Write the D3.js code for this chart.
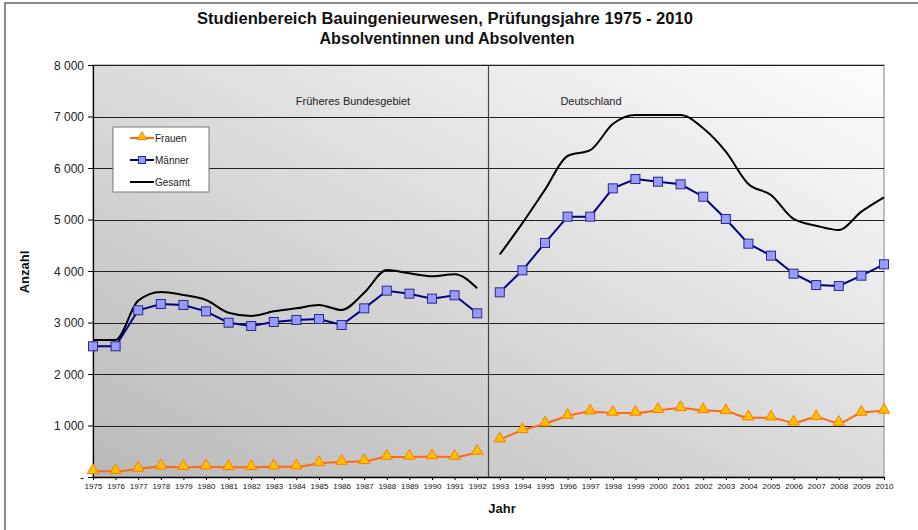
<!DOCTYPE html>
<html><head><meta charset="utf-8">
<script src="https://cdn.jsdelivr.net/npm/d3@7"></script>
<style>body{margin:0;background:#fff}svg{display:block}text{font-family:"Liberation Sans",Arial,sans-serif}</style>
</head><body>
<svg id="chart" width="918" height="530"></svg>
<script>
const yearsOld = d3.range(1975, 1993);
const yearsNew = d3.range(1993, 2011);
const frauenOld = [110,110,155,200,188,200,188,188,200,200,265,291,304,388,388,398,388,485];
const maennerOld = [2538,2538,3237,3359,3340,3217,2996,2932,3010,3049,3068,2951,3275,3618,3560,3463,3528,3178];
const gesamtOld = [2660,2660,3424,3592,3534,3437,3190,3126,3217,3275,3340,3243,3579,4019,3955,3897,3936,3664];
const frauenNew = [725,906,1035,1184,1268,1243,1243,1295,1334,1295,1275,1152,1152,1055,1159,1048,1243,1281];
const maennerNew = [3586,4013,4544,5055,5055,5605,5786,5734,5683,5443,5010,4530,4298,3948,3728,3709,3909,4130];
const gesamtNew = [4320,4930,5580,6233,6345,6854,7029,7029,7029,6770,6317,5689,5476,5010,4880,4796,5152,5431];
const yTicks = [0,1000,2000,3000,4000,5000,6000,7000,8000];
const xTickYears = d3.range(1975, 2011);
const titleLines = ["Studienbereich Bauingenieurwesen, Prüfungsjahre 1975 - 2010","Absolventinnen und Absolventen"];
const regionLabels = ["Früheres Bundesgebiet","Deutschland"];
const seriesNames = ["Frauen","Männer","Gesamt"];

const svg = d3.select("#chart");
const L=93, R=884, T=65, B=477;
const x = d3.scaleLinear().domain([1975,2010]).range([L,R]);
const y = d3.scaleLinear().domain([0,8000]).range([B,T]);

// outer frame
svg.append("rect").attr("x",5).attr("y",3).attr("width",940).attr("height",560)
  .attr("fill","none").attr("stroke","#666").attr("stroke-width",1.5);

// gradient
const defs = svg.append("defs");
const g = defs.append("linearGradient").attr("id","bg").attr("x1",0).attr("y1",1).attr("x2",1).attr("y2",0);
g.append("stop").attr("offset","0%").attr("stop-color","#b9b9b9");
g.append("stop").attr("offset","100%").attr("stop-color","#fdfdfd");
svg.append("rect").attr("x",L).attr("y",T).attr("width",R-L).attr("height",B-T)
  .attr("fill","url(#bg)").attr("stroke","#aaa").attr("stroke-width",1.5);

// gridlines
svg.append("g").selectAll("line").data(yTicks.filter(d=>d>0)).join("line")
  .attr("x1",L).attr("x2",R).attr("y1",d=>Math.round(y(d))+0.5).attr("y2",d=>Math.round(y(d))+0.5)
  .attr("stroke","#222").attr("stroke-width",1);

// divider
svg.append("line").attr("x1",x(1992.5)).attr("x2",x(1992.5)).attr("y1",T).attr("y2",B)
  .attr("stroke","#444").attr("stroke-width",1.2);

// y axis
const yAxis = d3.axisLeft(y).tickValues(yTicks).tickSize(5).tickSizeOuter(0)
  .tickFormat(d=> d===0 ? "-" : d3.format(",")(d).replace(",", " "));
const ya = svg.append("g").attr("transform",`translate(${L},0)`).call(yAxis);
ya.select(".domain").attr("stroke","#000").attr("stroke-width",1.2);
ya.selectAll(".tick line").attr("stroke","#000");
ya.selectAll(".tick text").attr("font-size",12).attr("fill","#222").attr("x",-9).attr("dy","0.35em");

// x axis
const xAxis = d3.axisBottom(x).tickValues(xTickYears).tickSize(3).tickSizeOuter(0).tickFormat(d3.format("d"));
const xa = svg.append("g").attr("transform",`translate(0,${B})`).call(xAxis);
xa.select(".domain").attr("stroke","#000").attr("stroke-width",1.5);
xa.selectAll(".tick line").attr("stroke","#000");
xa.selectAll(".tick text").attr("font-size",8).attr("fill","#111")
  .style("font-family","'Liberation Sans Narrow','Arial Narrow',sans-serif").attr("y",6);

// series
const curve = d3.curveMonotoneX;
function drawSeries(years, vals, color, width, cv){
  const line = d3.line().x((d,i)=>x(years[i])).y(d=>y(d)).curve(cv);
  svg.append("path").datum(vals).attr("d",line).attr("fill","none").attr("stroke",color).attr("stroke-width",width);
}
const tri = d3.symbol().type(d3.symbolTriangle).size(55);
function triangles(years, vals){
  svg.append("g").selectAll("path").data(vals).join("path").attr("d",tri)
    .attr("transform",(d,i)=>`translate(${x(years[i])},${y(d)-1})`)
    .attr("fill","#ffc000").attr("stroke","#ff7c00").attr("stroke-width",1);
}
function squares(years, vals){
  svg.append("g").selectAll("rect").data(vals).join("rect")
    .attr("x",(d,i)=>x(years[i])-4.5).attr("y",d=>y(d)-4.5).attr("width",9).attr("height",9)
    .attr("fill","#9999ff").attr("stroke","#2a2a8a").attr("stroke-width",1);
}
[[yearsOld,gesamtOld],[yearsNew,gesamtNew]].forEach(([ys,v])=>drawSeries(ys,v,"#000",2,curve));
[[yearsOld,maennerOld],[yearsNew,maennerNew]].forEach(([ys,v])=>{drawSeries(ys,v,"#000080",2,d3.curveLinear);squares(ys,v);});
[[yearsOld,frauenOld],[yearsNew,frauenNew]].forEach(([ys,v])=>{drawSeries(ys,v,"#ff6a10",2,curve);triangles(ys,v);});

// region labels
svg.append("text").attr("x",353).attr("y",105).attr("text-anchor","middle").attr("font-size",11).attr("fill","#222").text(regionLabels[0]);
svg.append("text").attr("x",591).attr("y",105).attr("text-anchor","middle").attr("font-size",11).attr("fill","#222").text(regionLabels[1]);

// legend
const lg = svg.append("g");
lg.append("rect").attr("x",113).attr("y",127).attr("width",96).attr("height",65).attr("fill","#fff").attr("stroke","#777").attr("stroke-width",1);
const ly=[138,160,182];
seriesNames.forEach((n,i)=>{
  const col = i===0?"#ff6a10":(i===1?"#000080":"#000");
  lg.append("line").attr("x1",130).attr("x2",154).attr("y1",ly[i]).attr("y2",ly[i]).attr("stroke",col).attr("stroke-width",2);
  lg.append("text").attr("x",155).attr("y",ly[i]+3.5).attr("font-size",10).attr("fill","#222").text(n);
});
lg.append("path").attr("d",d3.symbol().type(d3.symbolTriangle).size(36)).attr("transform",`translate(142,${ly[0]-1})`)
  .attr("fill","#ffc000").attr("stroke","#ff7c00");
lg.append("rect").attr("x",138.5).attr("y",ly[1]-3.5).attr("width",7).attr("height",7).attr("fill","#9999ff").attr("stroke","#2a2a8a");

// titles
svg.append("text").attr("x",445).attr("y",24).attr("text-anchor","middle").attr("font-size",16).attr("font-weight","bold")
  .attr("textLength",496).attr("lengthAdjust","spacingAndGlyphs").attr("fill","#111").text(titleLines[0]);
svg.append("text").attr("x",447).attr("y",44).attr("text-anchor","middle").attr("font-size",16).attr("font-weight","bold")
  .attr("textLength",255).attr("lengthAdjust","spacingAndGlyphs").attr("fill","#111").text(titleLines[1]);
svg.append("text").attr("transform","translate(29,272) rotate(-90)").attr("text-anchor","middle").attr("font-size",13).attr("font-weight","bold").attr("fill","#111").text("Anzahl");
svg.append("text").attr("x",502).attr("y",513).attr("text-anchor","middle").attr("font-size",13).attr("font-weight","bold").attr("fill","#111").text("Jahr");
</script>
</body></html>
